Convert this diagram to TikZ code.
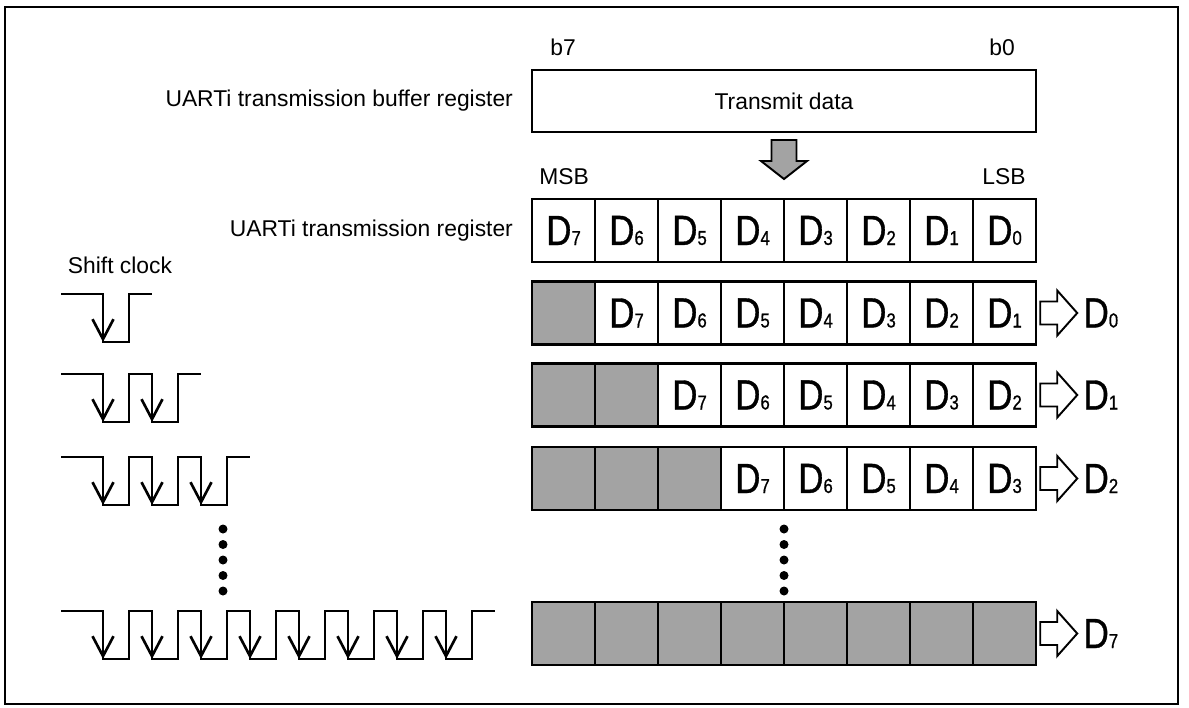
\documentclass[tikz,border=0pt]{standalone}
\usepackage{fontspec}
\setmainfont{Liberation Sans}
\newfontfamily\narrowsans[FakeStretch=0.83,FakeBold=0.8]{Liberation Sans}
\usepackage{tikz}
\usetikzlibrary{arrows.meta,positioning}

\newcommand{\dbit}[1]{{\narrowsans\fontsize{24}{24}\selectfont D\fontsize{11.5}{12}\selectfont #1}}

\begin{document}
\begin{tikzpicture}[x=0.02cm, y=-0.02cm,
    lbl/.style={font=\fontsize{13}{15}\selectfont, inner sep=1pt},
    cell/.style={draw, line width=1.4pt, minimum width=1.26cm, minimum height=1.26cm, inner sep=0pt},
    emptycell/.style={cell, fill=black!36},
    blockarrow/.style={draw, line width=1.1pt, line join=miter},
    clk/.style={line width=1.5pt},
    clkarrow/.style={line width=1.5pt, -{Straight Barb[length=0.4cm, width=0.42cm]}}]
    \useasboundingbox (0,0) rectangle (1189,707);
    \draw[line width=1.2pt] (5,7) rectangle (1178,704);

    \node[lbl] (b7) at (563,47) {b7};
    \node[lbl] (b0) at (1002,47) {b0};
    \node[lbl, draw, line width=1.4pt, minimum width=10.08cm, minimum height=1.24cm] (buf) at (784,101) {Transmit data};
    \node[lbl, anchor=east] (bufname) at (515,101) {UARTi transmission buffer register};
    \coordinate (move) at (784,140);
    \draw[blockarrow, fill=black!36] (move) -- ++(12.5,0) -- ++(0,21) -- ++(10.5,0) -- ++(-23,18)
        -- ++(-23,-18) -- ++(10.5,0) -- ++(0,-21) -- cycle;
    \node[lbl] (msb) at (564,177) {MSB};
    \node[lbl] (lsb) at (1004,177) {LSB};
    \node[lbl, anchor=east] (regname) at (515,231) {UARTi transmission register};
    \node[lbl] (shift) at (120,265) {Shift clock};

    \foreach \k [evaluate=\k as \b using int(7-\k)] in {0,...,7}
        \node[cell] (s0-\k) at ({563.5+63*\k},230.5) {\dbit{\b}};

    \foreach \r/\y in {1/313,2/395,3/478.5} {
        \foreach \k [evaluate=\k as \b using int(7-\k+\r)] in {0,...,7} {
            \ifnum\k<\r
                \node[emptycell] (s\r-\k) at ({563.5+63*\k},\y) {};
            \else
                \node[cell] (s\r-\k) at ({563.5+63*\k},\y) {\dbit{\b}};
            \fi
        }
    }
    \foreach \k in {0,...,7}
        \node[emptycell] (s8-\k) at ({563.5+63*\k},633.5) {};

    \foreach \r/\b in {1/0,2/1,3/2,8/7} {
        \coordinate[right=0.06cm of s\r-7] (o\r);
        \draw[blockarrow] (o\r) -- ++(0,-11.5) -- ++(17,0) -- ++(0,-11) -- ++(20,22.5)
            -- ++(-20,22.5) -- ++(0,-11) -- ++(-17,0) -- cycle;
        \node[anchor=west, inner sep=0pt] (q\r) at ([xshift=0.86cm]o\r) {\dbit{\b}};
    }

    \foreach \t/\n in {294/1,374/2,457/3,611/8} {
        \draw[clk] (61,\t) -- (103,\t) \foreach \k in {1,...,\n} {-- ++(0,48) -- ++(26,0) -- ++(0,-48) -- ++(23,0)};
        \foreach \k in {1,...,\n}
            \draw[clkarrow] ({103+49*(\k-1)},\t) -- ++(0,48);
    }

    \foreach \i in {0,...,4} {
        \fill (223,529+15.5*\i) circle[radius=0.09cm];
        \fill (784,529+15.5*\i) circle[radius=0.09cm];
    }
\end{tikzpicture}
\end{document}
